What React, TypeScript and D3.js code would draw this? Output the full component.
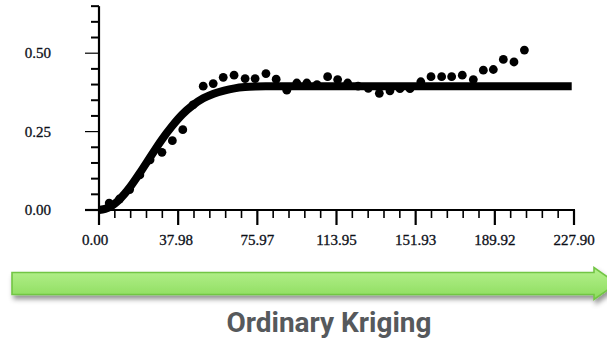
import React from "react";
import * as d3 from "d3";

// Empirical semivariogram points (lag distance, semivariance)
const lagValues = [4.9, 9.8, 14.7, 19.6, 24.5, 30.2, 35.2, 40.2, 45.1, 50.0, 54.8, 59.6, 64.8, 70.1, 74.9, 80.1, 85.0, 90.1, 94.9, 99.7, 104.6, 109.7, 114.5, 119.3, 124.3, 129.2, 134.5, 139.6, 144.4, 149.2, 154.4, 159.3, 164.4, 169.2, 174.3, 179.6, 184.4, 189.2, 194.0, 199.1, 204.1];
const semivarValues = [0.022, 0.035, 0.065, 0.112, 0.16, 0.184, 0.221, 0.256, 0.335, 0.395, 0.403, 0.423, 0.43, 0.419, 0.419, 0.435, 0.417, 0.382, 0.405, 0.405, 0.4, 0.425, 0.416, 0.405, 0.395, 0.388, 0.372, 0.38, 0.387, 0.387, 0.409, 0.425, 0.425, 0.425, 0.43, 0.416, 0.446, 0.448, 0.48, 0.472, 0.51];

// Fitted model curve
const modelLags = [0, 5, 10, 15, 20, 25, 30, 35, 40, 45, 50, 55, 60, 65, 70, 75, 80, 90, 100, 226.8];
const modelValues = [0, 0.009, 0.035, 0.074, 0.122, 0.173, 0.223, 0.267, 0.305, 0.334, 0.356, 0.371, 0.381, 0.388, 0.392, 0.394, 0.395, 0.395, 0.395, 0.395];

// Axis ticks
const xMajorTicks = [0, 37.98, 75.97, 113.95, 151.93, 189.92, 227.9];
const xTickLabels = ["0.00", "37.98", "75.97", "113.95", "151.93", "189.92", "227.90"];
const yMajorTicks = [0, 0.25, 0.5];
const yTickLabels = ["0.00", "0.25", "0.50"];
const yMinorStep = 0.05;
const yMax = 0.65;
const xMinorPerMajor = 5;

const title = "Ordinary Kriging";

export default function App() {
  const W = 607;
  const H = 343;
  const x = d3.scaleLinear().domain([0, 227.9]).range([99, 574]);
  const y = d3.scaleLinear().domain([0, 0.25]).range([210, 131.6]);

  const xMinor: number[] = [];
  for (let i = 0; i < xMajorTicks.length - 1; i++) {
    const a = xMajorTicks[i];
    const b = xMajorTicks[i + 1];
    for (let k = 1; k < xMinorPerMajor; k++) xMinor.push(a + ((b - a) * k) / xMinorPerMajor);
  }
  const yMinor: number[] = [];
  for (let v = yMinorStep; v <= yMax + 1e-9; v += yMinorStep) {
    const isMajor = yMajorTicks.some((m) => Math.abs(m - v) < 1e-6);
    if (!isMajor) yMinor.push(v);
  }

  const modelPts = modelLags.map((l, i) => [l, modelValues[i]] as [number, number]);
  const line = d3
    .line<[number, number]>()
    .x((d) => x(d[0]))
    .y((d) => y(d[1]))
    .curve(d3.curveMonotoneX);

  const x0 = x(0);
  const y0 = y(0);

  // arrow geometry
  const bodyL = 12, bodyR = 594, bodyT = 272.5, bodyB = 294.5;
  const headT = 267.5, headB = 299.5, tip = 617;
  const cy = (bodyT + bodyB) / 2;
  const arrowPath = `M${bodyL},${bodyT}L${bodyR},${bodyT}L${bodyR},${headT}L${tip},${cy}L${bodyR},${headB}L${bodyR},${bodyB}L${bodyL},${bodyB}Z`;

  const labelFont = "'Liberation Serif', 'Times New Roman', serif";

  return (
    <svg
      width={W}
      height={H}
      viewBox={`0 0 ${W} ${H}`}
      style={{ position: "absolute", left: 0, top: 0, background: "#fff" }}
    >
      <defs>
        <linearGradient id="grn" x1="0" y1="0" x2="0" y2="1">
          <stop offset="0" stopColor="#b6f18f" />
          <stop offset="1" stopColor="#8cdc5c" />
        </linearGradient>
        <filter id="shadow" x="-5%" y="-50%" width="110%" height="200%">
          <feDropShadow dx="2" dy="4" stdDeviation="2.4" floodColor="#000" floodOpacity="0.42" />
        </filter>
      </defs>

      {/* axes */}
      <line x1={x0} x2={x0} y1={y(yMax)} y2={y0 + 1} stroke="#000" strokeWidth={2.2} />
      <line x1={x0 - 14} x2={x(227.9) + 1} y1={y0} y2={y0} stroke="#000" strokeWidth={2.2} />

      {yMinor.map((v, i) => (
        <line key={"ym" + i} x1={x0 - 8} x2={x0} y1={y(v)} y2={y(v)} stroke="#000" strokeWidth={2} />
      ))}
      {yMajorTicks.map((v, i) => (
        <line key={"yM" + i} x1={x0 - 14} x2={x0} y1={y(v)} y2={y(v)} stroke="#000" strokeWidth={v === 0 ? 2.2 : 1.2} />
      ))}
      {xMinor.map((v, i) => (
        <line key={"xm" + i} x1={x(v)} x2={x(v)} y1={y0} y2={y0 + 8} stroke="#000" strokeWidth={1.6} />
      ))}
      {xMajorTicks.map((v, i) => (
        <line key={"xM" + i} x1={x(v)} x2={x(v)} y1={y0} y2={y0 + 15} stroke="#000" strokeWidth={2.2} />
      ))}

      {xMajorTicks.map((v, i) => (
        <text
          key={"xl" + i}
          x={x(v) - (i === 0 ? 4 : i === 1 ? 2 : 0)}
          y={245}
          textAnchor="middle"
          fontFamily={labelFont}
          fontSize={15}
          fill="#0c0f18"
          stroke="#0c0f18"
          strokeWidth={0.3}
        >
          {xTickLabels[i]}
        </text>
      ))}
      {yMajorTicks.map((v, i) => (
        <text
          key={"yl" + i}
          x={51}
          y={y(v) + 5}
          textAnchor="end"
          fontFamily={labelFont}
          fontSize={15}
          fill="#0c0f18"
          stroke="#0c0f18"
          strokeWidth={0.3}
        >
          {yTickLabels[i]}
        </text>
      ))}

      {/* model curve */}
      <path d={line(modelPts) || ""} fill="none" stroke="#000" strokeWidth={8} strokeLinecap="butt" />

      {/* empirical points */}
      {lagValues.map((l, i) => (
        <circle key={"p" + i} cx={x(l)} cy={y(semivarValues[i])} r={4.4} fill="#000" />
      ))}

      {/* arrow */}
      <path d={arrowPath} fill="url(#grn)" stroke="#72c544" strokeWidth={1.6} filter="url(#shadow)" />

      <text
        x={329}
        y={331.5}
        textAnchor="middle"
        fontFamily="Roboto, 'Liberation Sans', Arial, sans-serif"
        fontWeight={700}
        fontSize={28.5}
        fill="#56595c"
        textLength={205}
        lengthAdjust="spacingAndGlyphs"
      >
        {title}
      </text>
    </svg>
  );
}
